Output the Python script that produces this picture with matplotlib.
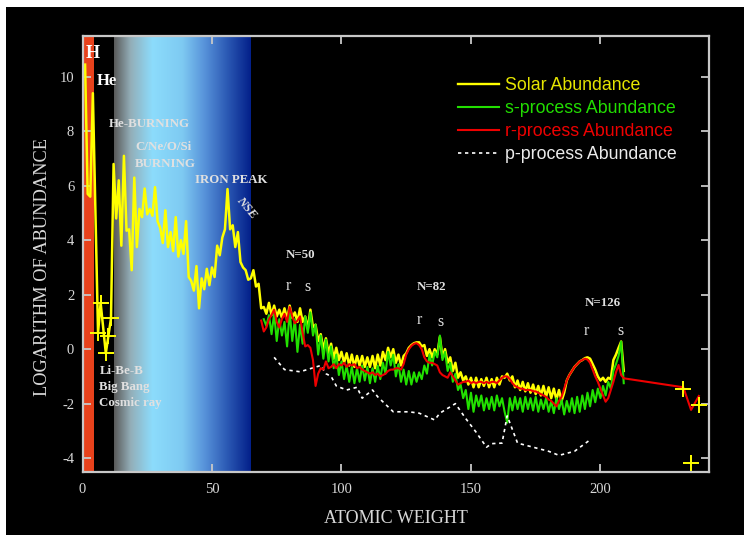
import numpy as np
import matplotlib
matplotlib.use("Agg")
import matplotlib.pyplot as plt
from matplotlib.colors import LinearSegmentedColormap
from matplotlib.lines import Line2D
from matplotlib.patches import Rectangle

plt.rcParams["axes.unicode_minus"] = False

# ---- data (log abundance vs mass number) ----
light_A = [1, 2, 3, 4, 6, 7, 9, 10, 11]
light_y = [10.45, 5.7, 5.6, 9.4, 0.6, 1.7, -0.15, 0.5, 1.13]
libeb_A = [6, 7, 9, 10, 11]
libeb_y = [0.6, 1.7, -0.15, 0.5, 1.13]

solar_start = 12
solar_y = [
    6.8, 4.8, 6.2, 3.8, 7.1, 4.35, 4.4, 2.9, 6.3,                 # 12-20
    3.75, 5.15, 4.85, 5.9, 4.95, 5.15, 4.9, 5.95, 4.7, 4.45,      # 21-30
    3.9, 5.1, 3.75, 4.3, 3.6, 4.85, 3.4, 4.0, 3.5, 4.7,           # 31-40
    2.65, 2.5, 2.15, 3.05, 1.5, 2.6, 2.2, 2.95, 2.35, 3.0,        # 41-50
    2.65, 3.8, 3.45, 4.1, 4.4, 5.88, 4.4, 4.55, 3.75, 4.3,        # 51-60
    3.2, 3.0, 2.9, 2.55, 2.6, 2.9, 2.3, 2.4, 1.5, 1.55,           # 61-70
    1.3, 1.7, 1.25, 1.6, 1.2, 1.45, 1.15, 1.5, 1.1, 1.6,          # 71-80
    1.15, 1.35, 1.0, 1.5, 1.0, 1.2, 0.75, 1.45, 0.8, 0.9,         # 81-90
    0.3, 0.55, 0.0, 0.4, -0.15, 0.2, -0.35, 0.05, -0.4, -0.1,     # 91-100
    -0.5, -0.15, -0.6, -0.2, -0.65, -0.25, -0.6, -0.25, -0.65, -0.3,   # 101-110
    -0.65, -0.25, -0.7, -0.2, -0.6, -0.1, -0.4, 0.05, -0.3, 0.0,       # 111-120
    -0.5, -0.2, -0.6, -0.25, -0.15, 0.05, 0.15, 0.22, 0.25, 0.25,      # 121-130
    0.1, 0.15, -0.25, 0.0, -0.3, 0.0, -0.2, 0.45, -0.3, 0.0,           # 131-140
    -0.5, -0.3, -0.8, -0.5, -1.05, -0.85, -1.15, -1.0, -1.3, -1.05,    # 141-150
    -1.4, -1.05, -1.4, -1.1, -1.35, -1.05, -1.4, -1.1, -1.4, -1.05,    # 151-160
    -1.3, -1.0, -1.05, -0.9, -1.15, -1.0, -1.4, -1.15, -1.5, -1.2,     # 161-170
    -1.55, -1.25, -1.6, -1.3, -1.65, -1.35, -1.7, -1.35, -1.75, -1.4,  # 171-180
    -1.8, -1.45, -1.85, -1.5, -1.9, -1.6, -1.15, -0.95, -0.8, -0.65,   # 181-190
    -0.55, -0.45, -0.4, -0.33, -0.3, -0.35, -0.55, -0.75, -1.0, -1.15, # 191-200
    -1.05, -1.2, -1.05, -1.1, -0.4, -0.2, 0.05, 0.28, -0.8,            # 201-209
]
actinide_A = [232, 235, 238]
actinide_y = [-1.47, -4.17, -2.05]

s_start = 70
s_y = [
    1.1, 0.85, 1.25, 0.55, 1.3, 0.3, 1.1, 0.5, 1.0, 0.1,          # 70-79
    1.4, 0.3, 1.1, -0.1, 0.9, 0.2, 1.2, 0.6, 1.35, 0.5,           # 80-89
    0.9, -0.2, 0.5, -0.35, 0.35, -0.45, 0.1, -0.7, -0.2, -0.95,   # 90-99
    -0.45, -1.1, -0.6, -1.2, -0.65, -1.25, -0.7, -1.2, -0.6, -1.15,  # 100-109
    -0.65, -1.25, -0.7, -1.2, -0.6, -1.1, -0.5, -0.9, -0.1, -0.6,    # 110-119
    -0.2, -1.0, -0.55, -1.2, -0.75, -1.3, -0.8, -1.3, -0.85, -1.2,   # 120-129
    -0.85, -1.1, -0.6, -0.9, -0.2, -0.6, -0.1, -0.3, 0.5, -0.4,      # 130-139
    -0.1, -0.8, -0.5, -1.2, -0.9, -1.5, -1.3, -1.8, -1.5, -2.2,      # 140-149
    -1.6, -2.3, -1.7, -2.1, -1.7, -2.25, -1.8, -2.2, -1.75, -2.25,   # 150-159
    -1.7, -2.1, -1.8, -2.3, -2.7, -1.8, -2.25, -1.75, -2.2, -1.8,    # 160-169
    -2.3, -1.75, -2.2, -1.8, -2.25, -1.75, -2.3, -1.85, -2.2, -1.8,  # 170-179
    -2.3, -1.9, -2.35, -1.8, -2.2, -1.85, -2.4, -1.9, -2.3, -1.8,    # 180-189
    -2.35, -1.75, -2.3, -1.7, -2.2, -1.6, -2.1, -1.5, -1.95, -1.45,  # 190-199
    -1.8, -1.35, -1.7, -1.2, -1.45, -0.8, -0.55, -0.25, 0.28, -1.25, # 200-209
]

r_start = 69
r_y = [
    1.05, 0.65, 0.8, 1.1, 1.25, 1.45, 1.0, 0.8, 1.1, 1.3, 1.0,    # 69-79
    1.55, 1.2, 0.95, 1.05, 1.2, 0.6, 0.1, 0.15, 0.05, -0.4,       # 80-89
    -1.35, -0.9, -0.7, -0.75, -0.45, -0.7, -0.65, -0.55, -0.7, -0.55,  # 90-99
    -0.6, -0.5, -0.65, -0.55, -0.6, -0.55, -0.7, -0.65, -0.75, -0.8,   # 100-109
    -0.85, -0.9, -0.85, -0.95, -0.9, -1.0, -0.95, -0.9, -0.8, -0.75,   # 110-119
    -0.75, -0.7, -0.7, -0.75, -0.55, -0.2, 0.0, 0.12, 0.2, 0.22,       # 120-129
    0.15, 0.0, -0.3, -0.45, -0.5, -0.5, -0.55, -0.6, -0.85, -0.95,     # 130-139
    -1.0, -1.05, -0.85, -1.0, -1.15, -1.3, -1.25, -1.2, -1.2, -1.15,   # 140-149
    -1.25, -1.2, -1.25, -1.2, -1.2, -1.25, -1.2, -1.25, -1.2, -1.2,    # 150-159
    -1.25, -1.15, -1.05, -1.0, -1.0, -1.1, -1.25, -1.35, -1.4, -1.45,  # 160-169
    -1.45, -1.5, -1.5, -1.5, -1.55, -1.55, -1.6, -1.65, -1.7, -1.75,   # 170-179
    -1.85, -1.9, -2.0, -2.1, -1.9, -1.75, -1.45, -1.15, -0.95, -0.8,   # 180-189
    -0.65, -0.55, -0.45, -0.4, -0.35, -0.38, -0.5, -0.75, -1.0, -1.2,  # 190-199
    -1.45, -1.7, -1.93, -1.8, -1.5, -1.2, -0.85, -0.58, -0.95, -1.07,  # 200-209
]
r_tail_A = [232, 235, 238]
r_tail_y = [-1.4, -2.23, -1.72]

p_A = [74, 78, 84, 92, 94, 96, 98, 102, 106, 108, 112, 114, 120, 124, 126,
       130, 136, 138, 144, 148, 152, 156, 158, 162, 164, 168, 174, 180, 184,
       190, 196]
p_y = [-0.3, -0.75, -0.83, -0.6, -0.9, -1.0, -1.35, -1.5, -1.4, -1.8, -1.5,
       -1.75, -2.3, -2.3, -2.3, -2.35, -2.6, -2.35, -2.0, -2.55, -3.05, -3.6,
       -3.47, -3.45, -2.45, -3.45, -3.6, -3.75, -3.9, -3.75, -3.33]

# ---- figure ----
serif = "Liberation Serif"
sans = "Liberation Sans"
txt = "#d8d8d8"

fig = plt.figure(figsize=(7.44, 5.35), dpi=100, facecolor="white")
bg = Rectangle((6 / 744, 0), 1, 1 - 7 / 535, transform=fig.transFigure,
               facecolor="black", edgecolor="none", zorder=-10)
fig.add_artist(bg)
ax = fig.add_axes([82.5 / 744, 1 - 471.7 / 535, 626.7 / 744, 435.7 / 535])
ax.set_zorder(1)
ax.set_facecolor("black")
ax.set_xlim(0, 242)
ax.set_ylim(-4.5, 11.5)

# background bands
ax.axvspan(0, 4.6, color="#e8421c", zorder=0, lw=0)
grad = LinearSegmentedColormap.from_list("burn", [
    (0.0, "#5a5a5a"), (0.12, "#93aeb8"), (0.28, "#8cdcfc"), (0.5, "#7ecaf2"),
    (0.66, "#5893da"), (0.82, "#2d5cb6"), (1.0, "#03208a")])
ax.imshow(np.linspace(0, 1, 256)[None, :], cmap=grad, aspect="auto",
          extent=[12, 64.7, -4.5, 11.5], zorder=0.5)

# curves
solar_A = np.arange(solar_start, solar_start + len(solar_y))
yA = np.concatenate([light_A, solar_A])
yv = np.concatenate([light_y, solar_y])
ax.plot(yA, yv, color="#ffff00", lw=1.8, zorder=2)
ax.plot(libeb_A, libeb_y, ls="none", marker="+", ms=11, mew=1.4, color="#ffff00", zorder=2)
ax.plot(actinide_A, actinide_y, ls="none", marker="+", ms=11, mew=1.4, color="#ffff00", zorder=4)

s_A = np.arange(s_start, s_start + len(s_y))
ax.plot(s_A, s_y, color="#22e000", lw=1.5, zorder=3)

r_A = np.concatenate([np.arange(r_start, r_start + len(r_y)), r_tail_A])
ax.plot(r_A, np.concatenate([r_y, r_tail_y]), color="#ee0000", lw=1.5, zorder=3.5)

ax.plot(p_A, p_y, color="white", lw=1.2, ls=(0, (2, 2.2)), zorder=3)

# axes styling
for sp in ax.spines.values():
    sp.set_color("#c8c8c8")
    sp.set_linewidth(1.6)
    sp.set_zorder(5)
ax.set_xticks([0, 50, 100, 150, 200])
ax.set_yticks([-4, -2, 0, 2, 4, 6, 8, 10])
ax.tick_params(direction="in", length=6, width=1.3, color="#c8c8c8",
               top=True, right=True, labelcolor=txt, labelsize=10.5)
ax.tick_params(axis="x", pad=8)
ax.tick_params(axis="y", pad=6)
for lab in ax.get_xticklabels() + ax.get_yticklabels():
    lab.set_fontfamily(serif)
ax.set_xlabel("ATOMIC WEIGHT", fontfamily=serif, fontsize=13, color=txt, labelpad=10)
ax.set_ylabel("LOGARITHM OF ABUNDANCE", fontfamily=serif, fontsize=13.2, color=txt)
ax.yaxis.set_label_coords(-0.05, 0.47)

# annotations
def note(x, y, s, size=9.3, bold=True, **kw):
    ax.text(x, y, s, fontfamily=serif, fontsize=size, color=kw.pop("color", "#e0e0e0"),
            fontweight="bold" if bold else "normal", zorder=6, **kw)

note(3.9, 10.86, "H", size=13, color="white", ha="center", va="center")
note(5.6, 9.84, "He", size=12, color="white", ha="left", va="center")
note(10.2, 8.28, "He-BURNING", ha="left", va="center")
note(20.3, 7.41, "C/Ne/O/Si", ha="left", va="center")
note(20.3, 6.8, "BURNING", ha="left", va="center")
note(43.5, 6.22, "IRON PEAK", ha="left", va="center")
note(63.4, 5.18, "NSE", rotation=-50, ha="center", va="center", style="italic")
note(6.5, -0.82, "Li-Be-B", ha="left", va="center")
note(6.5, -1.4, "Big Bang", ha="left", va="center")
note(6.5, -1.96, "Cosmic ray", ha="left", va="center")
note(84, 3.44, "N=50", ha="center", va="center")
note(134.6, 2.3, "N=82", ha="center", va="center")
note(200.8, 1.71, "N=126", ha="center", va="center")
for x, y, s in [(79.5, 2.33, "r"), (87, 2.28, "s"), (130, 1.08, "r"), (138.1, 0.99, "s"),
                (194.7, 0.68, "r"), (207.6, 0.68, "s")]:
    note(x, y, s, size=11.5, bold=False, ha="center", va="center")

# legend
handles = [Line2D([], [], color="#ffff00", lw=1.7),
           Line2D([], [], color="#22e000", lw=1.5),
           Line2D([], [], color="#ee0000", lw=1.5),
           Line2D([], [], color="white", lw=1.2, ls=(0, (2, 2.2)))]
labels = ["Solar Abundance", "s-process Abundance", "r-process Abundance", "p-process Abundance"]
leg = ax.legend(handles, labels, loc="upper left", bbox_to_anchor=(0.599, 0.905),
                frameon=False, borderpad=0, borderaxespad=0, handlelength=2.3,
                handletextpad=0.34, labelspacing=0.33,
                prop={"family": sans, "size": 12.8})
for t, c in zip(leg.get_texts(), ["#e6e600", "#22dd00", "#ee0000", "#ececec"]):
    t.set_color(c)

fig.savefig("out.png", dpi=100, facecolor=fig.get_facecolor())
